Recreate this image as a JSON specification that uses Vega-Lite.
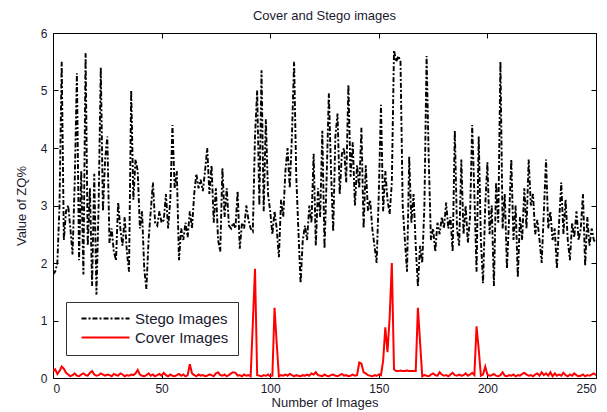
{
"$schema": "https://vega.github.io/schema/vega-lite/v6.json",
"width": 543, "height": 345,
"autosize": {"type": "none"},
"padding": {"left": 53, "top": 33, "right": 11, "bottom": 34},
"background": "white",
"title": {"text": "Cover and Stego images", "fontSize": 13, "fontWeight": "normal", "color": "#1a1a2e", "offset": 4, "font": "Liberation Sans"},
"data": {"values": [
{"n":0,"stego":1.8,"cover":0.12},{"n":1,"stego":1.85,"cover":0.15},{"n":2,"stego":2.0,"cover":0.07},{"n":3,"stego":3.0,"cover":0.12},{"n":4,"stego":5.5,"cover":0.2},{"n":5,"stego":2.4,"cover":0.16},{"n":6,"stego":2.9,"cover":0.09},{"n":7,"stego":3.0,"cover":0.06},{"n":8,"stego":2.6,"cover":0.03},{"n":9,"stego":2.15,"cover":0.05},
{"n":10,"stego":3.4,"cover":0.08},{"n":11,"stego":5.3,"cover":0.04},{"n":12,"stego":2.05,"cover":0.03},{"n":13,"stego":3.6,"cover":0.06},{"n":14,"stego":1.8,"cover":0.08},{"n":15,"stego":5.65,"cover":0.05},{"n":16,"stego":2.3,"cover":0.04},{"n":17,"stego":3.3,"cover":0.09},{"n":18,"stego":1.6,"cover":0.12},{"n":19,"stego":3.55,"cover":0.06},
{"n":20,"stego":1.45,"cover":0.04},{"n":21,"stego":3.0,"cover":0.05},{"n":22,"stego":5.4,"cover":0.08},{"n":23,"stego":2.9,"cover":0.06},{"n":24,"stego":3.8,"cover":0.04},{"n":25,"stego":4.2,"cover":0.06},{"n":26,"stego":2.35,"cover":0.05},{"n":27,"stego":2.6,"cover":0.03},{"n":28,"stego":2.2,"cover":0.07},{"n":29,"stego":2.05,"cover":0.05},
{"n":30,"stego":3.05,"cover":0.04},{"n":31,"stego":2.6,"cover":0.08},{"n":32,"stego":2.3,"cover":0.06},{"n":33,"stego":2.8,"cover":0.03},{"n":34,"stego":2.2,"cover":0.05},{"n":35,"stego":1.85,"cover":0.04},{"n":36,"stego":5.0,"cover":0.06},{"n":37,"stego":3.1,"cover":0.05},{"n":38,"stego":3.8,"cover":0.08},{"n":39,"stego":3.6,"cover":0.14},
{"n":40,"stego":2.6,"cover":0.06},{"n":41,"stego":2.9,"cover":0.04},{"n":42,"stego":1.9,"cover":0.03},{"n":43,"stego":1.55,"cover":0.05},{"n":44,"stego":2.4,"cover":0.08},{"n":45,"stego":2.9,"cover":0.04},{"n":46,"stego":3.4,"cover":0.06},{"n":47,"stego":2.7,"cover":0.03},{"n":48,"stego":2.65,"cover":0.05},{"n":49,"stego":2.9,"cover":0.07},
{"n":50,"stego":2.7,"cover":0.04},{"n":51,"stego":2.75,"cover":0.09},{"n":52,"stego":3.2,"cover":0.05},{"n":53,"stego":2.6,"cover":0.03},{"n":54,"stego":3.1,"cover":0.06},{"n":55,"stego":4.4,"cover":0.04},{"n":56,"stego":3.3,"cover":0.03},{"n":57,"stego":3.6,"cover":0.05},{"n":58,"stego":2.05,"cover":0.07},{"n":59,"stego":2.6,"cover":0.04},
{"n":60,"stego":2.4,"cover":0.06},{"n":61,"stego":2.7,"cover":0.03},{"n":62,"stego":2.45,"cover":0.05},{"n":63,"stego":2.9,"cover":0.24},{"n":64,"stego":2.6,"cover":0.08},{"n":65,"stego":3.2,"cover":0.05},{"n":66,"stego":3.55,"cover":0.03},{"n":67,"stego":3.3,"cover":0.06},{"n":68,"stego":3.45,"cover":0.04},{"n":69,"stego":3.25,"cover":0.05},
{"n":70,"stego":3.6,"cover":0.03},{"n":71,"stego":4.0,"cover":0.04},{"n":72,"stego":3.2,"cover":0.06},{"n":73,"stego":3.7,"cover":0.05},{"n":74,"stego":2.7,"cover":0.03},{"n":75,"stego":3.3,"cover":0.08},{"n":76,"stego":2.4,"cover":0.1},{"n":77,"stego":2.2,"cover":0.05},{"n":78,"stego":3.65,"cover":0.04},{"n":79,"stego":2.8,"cover":0.06},
{"n":80,"stego":3.3,"cover":0.03},{"n":81,"stego":2.65,"cover":0.05},{"n":82,"stego":2.6,"cover":0.08},{"n":83,"stego":2.7,"cover":0.1},{"n":84,"stego":2.6,"cover":0.09},{"n":85,"stego":3.25,"cover":0.04},{"n":86,"stego":2.25,"cover":0.05},{"n":87,"stego":2.7,"cover":0.03},{"n":88,"stego":2.6,"cover":0.06},{"n":89,"stego":3.0,"cover":0.04},
{"n":90,"stego":2.75,"cover":0.05},{"n":91,"stego":2.6,"cover":0.03},{"n":92,"stego":2.55,"cover":0.95},{"n":93,"stego":4.2,"cover":1.9},{"n":94,"stego":5.0,"cover":0.05},{"n":95,"stego":3.0,"cover":0.04},{"n":96,"stego":5.35,"cover":0.03},{"n":97,"stego":2.9,"cover":0.05},{"n":98,"stego":4.5,"cover":0.04},{"n":99,"stego":3.2,"cover":0.06},
{"n":100,"stego":2.9,"cover":0.03},{"n":101,"stego":2.5,"cover":0.04},{"n":102,"stego":2.9,"cover":1.22},{"n":103,"stego":2.6,"cover":0.6},{"n":104,"stego":2.1,"cover":0.03},{"n":105,"stego":3.1,"cover":0.05},{"n":106,"stego":2.8,"cover":0.04},{"n":107,"stego":3.6,"cover":0.06},{"n":108,"stego":4.0,"cover":0.04},{"n":109,"stego":3.3,"cover":0.07},
{"n":110,"stego":4.2,"cover":0.05},{"n":111,"stego":5.5,"cover":0.03},{"n":112,"stego":3.5,"cover":0.05},{"n":113,"stego":2.55,"cover":0.04},{"n":114,"stego":1.65,"cover":0.03},{"n":115,"stego":2.4,"cover":0.05},{"n":116,"stego":2.65,"cover":0.04},{"n":117,"stego":2.4,"cover":0.06},{"n":118,"stego":3.0,"cover":0.04},{"n":119,"stego":2.7,"cover":0.08},
{"n":120,"stego":3.9,"cover":0.06},{"n":121,"stego":2.3,"cover":0.1},{"n":122,"stego":3.3,"cover":0.05},{"n":123,"stego":2.8,"cover":0.04},{"n":124,"stego":4.3,"cover":0.03},{"n":125,"stego":2.25,"cover":0.06},{"n":126,"stego":3.5,"cover":0.04},{"n":127,"stego":4.95,"cover":0.03},{"n":128,"stego":3.6,"cover":0.05},{"n":129,"stego":2.55,"cover":0.06},
{"n":130,"stego":4.2,"cover":0.04},{"n":131,"stego":4.6,"cover":0.03},{"n":132,"stego":3.2,"cover":0.05},{"n":133,"stego":3.9,"cover":0.07},{"n":134,"stego":4.0,"cover":0.04},{"n":135,"stego":3.4,"cover":0.05},{"n":136,"stego":5.1,"cover":0.03},{"n":137,"stego":3.5,"cover":0.04},{"n":138,"stego":4.1,"cover":0.06},{"n":139,"stego":3.0,"cover":0.04},
{"n":140,"stego":3.7,"cover":0.05},{"n":141,"stego":3.3,"cover":0.27},{"n":142,"stego":4.35,"cover":0.25},{"n":143,"stego":2.6,"cover":0.1},{"n":144,"stego":3.7,"cover":0.08},{"n":145,"stego":2.9,"cover":0.05},{"n":146,"stego":3.1,"cover":0.04},{"n":147,"stego":2.6,"cover":0.03},{"n":148,"stego":2.3,"cover":0.05},{"n":149,"stego":2.0,"cover":0.04},
{"n":150,"stego":3.2,"cover":0.06},{"n":151,"stego":4.75,"cover":0.05},{"n":152,"stego":2.9,"cover":0.3},{"n":153,"stego":3.6,"cover":0.88},{"n":154,"stego":3.1,"cover":0.45},{"n":155,"stego":2.85,"cover":1.05},{"n":156,"stego":3.4,"cover":2.0},{"n":157,"stego":5.7,"cover":0.15},{"n":158,"stego":5.5,"cover":0.12},{"n":159,"stego":5.6,"cover":0.12},
{"n":160,"stego":5.5,"cover":0.13},{"n":161,"stego":3.0,"cover":0.12},{"n":162,"stego":2.4,"cover":0.12},{"n":163,"stego":1.85,"cover":0.13},{"n":164,"stego":3.85,"cover":0.12},{"n":165,"stego":2.7,"cover":0.12},{"n":166,"stego":3.2,"cover":0.12},{"n":167,"stego":2.3,"cover":0.12},{"n":168,"stego":1.6,"cover":1.22},{"n":169,"stego":2.3,"cover":0.62},
{"n":170,"stego":2.0,"cover":0.03},{"n":171,"stego":3.0,"cover":0.05},{"n":172,"stego":5.6,"cover":0.04},{"n":173,"stego":3.8,"cover":0.03},{"n":174,"stego":2.4,"cover":0.06},{"n":175,"stego":2.6,"cover":0.08},{"n":176,"stego":2.2,"cover":0.05},{"n":177,"stego":2.7,"cover":0.04},{"n":178,"stego":2.5,"cover":0.1},{"n":179,"stego":2.8,"cover":0.06},
{"n":180,"stego":2.6,"cover":0.04},{"n":181,"stego":3.05,"cover":0.05},{"n":182,"stego":2.6,"cover":0.03},{"n":183,"stego":2.8,"cover":0.06},{"n":184,"stego":2.2,"cover":0.09},{"n":185,"stego":4.3,"cover":0.05},{"n":186,"stego":2.6,"cover":0.04},{"n":187,"stego":2.3,"cover":0.06},{"n":188,"stego":3.8,"cover":0.04},{"n":189,"stego":2.5,"cover":0.05},
{"n":190,"stego":3.0,"cover":0.08},{"n":191,"stego":2.35,"cover":0.04},{"n":192,"stego":2.8,"cover":0.06},{"n":193,"stego":4.4,"cover":0.09},{"n":194,"stego":3.2,"cover":0.05},{"n":195,"stego":1.85,"cover":0.9},{"n":196,"stego":4.2,"cover":0.5},{"n":197,"stego":2.4,"cover":0.04},{"n":198,"stego":1.65,"cover":0.06},{"n":199,"stego":3.0,"cover":0.2},
{"n":200,"stego":3.75,"cover":0.06},{"n":201,"stego":2.5,"cover":0.04},{"n":202,"stego":3.0,"cover":0.05},{"n":203,"stego":1.6,"cover":0.07},{"n":204,"stego":3.4,"cover":0.04},{"n":205,"stego":2.7,"cover":0.03},{"n":206,"stego":5.5,"cover":0.05},{"n":207,"stego":2.6,"cover":0.1},{"n":208,"stego":3.2,"cover":0.04},{"n":209,"stego":1.9,"cover":0.03},
{"n":210,"stego":2.8,"cover":0.05},{"n":211,"stego":3.8,"cover":0.04},{"n":212,"stego":2.4,"cover":0.06},{"n":213,"stego":3.0,"cover":0.03},{"n":214,"stego":1.75,"cover":0.05},{"n":215,"stego":2.8,"cover":0.04},{"n":216,"stego":2.4,"cover":0.07},{"n":217,"stego":3.3,"cover":0.09},{"n":218,"stego":2.6,"cover":0.06},{"n":219,"stego":3.8,"cover":0.04},
{"n":220,"stego":3.0,"cover":0.05},{"n":221,"stego":3.2,"cover":0.03},{"n":222,"stego":2.5,"cover":0.06},{"n":223,"stego":2.75,"cover":0.08},{"n":224,"stego":2.4,"cover":0.04},{"n":225,"stego":2.0,"cover":0.1},{"n":226,"stego":2.9,"cover":0.05},{"n":227,"stego":3.8,"cover":0.08},{"n":228,"stego":2.6,"cover":0.04},{"n":229,"stego":2.9,"cover":0.1},
{"n":230,"stego":2.4,"cover":0.03},{"n":231,"stego":2.6,"cover":0.08},{"n":232,"stego":1.9,"cover":0.04},{"n":233,"stego":2.7,"cover":0.06},{"n":234,"stego":3.4,"cover":0.04},{"n":235,"stego":2.5,"cover":0.09},{"n":236,"stego":3.1,"cover":0.05},{"n":237,"stego":2.4,"cover":0.03},{"n":238,"stego":2.05,"cover":0.06},{"n":239,"stego":2.7,"cover":0.04},
{"n":240,"stego":2.45,"cover":0.08},{"n":241,"stego":2.9,"cover":0.05},{"n":242,"stego":2.4,"cover":0.03},{"n":243,"stego":2.6,"cover":0.04},{"n":244,"stego":3.2,"cover":0.06},{"n":245,"stego":1.95,"cover":0.03},{"n":246,"stego":2.8,"cover":0.05},{"n":247,"stego":2.3,"cover":0.04},{"n":248,"stego":2.6,"cover":0.06},{"n":249,"stego":2.4,"cover":0.08},
{"n":250,"stego":2.35,"cover":0.05}
]},
"transform": [{"fold": ["stego", "cover"], "as": ["series", "value"]}],
"layer": [
{"mark": {"type": "line", "clip": true},
 "encoding": {
  "x": {"field": "n", "type": "quantitative", "scale": {"domain": [0, 250], "nice": false}, "axis": {"orient": "bottom", "values": [0, 50, 100, 150, 200, 250], "title": "Number of Images", "labelPadding": 10, "titlePadding": 2}},
  "y": {"field": "value", "type": "quantitative", "scale": {"domain": [0, 6], "nice": false}, "axis": {"orient": "left", "values": [0, 1, 2, 3, 4, 5, 6], "title": "Value of ZQ%", "labelPadding": 11, "titlePadding": 12}},
  "color": {"field": "series", "type": "nominal", "scale": {"domain": ["stego", "cover"], "range": ["#000000", "#ff0000"]},
   "legend": {"title": null, "orient": "none", "legendX": 13, "legendY": 269, "strokeColor": "#333333", "fillColor": "white", "padding": 9, "symbolType": "M-4,0H4", "symbolSize": 144, "symbolOffset": 23, "symbolStrokeWidth": 1.8, "labelFontSize": 15, "labelFont": "Liberation Sans", "labelColor": "#1a1a2e", "rowPadding": 3, "labelOffset": 22, "labelExpr": "datum.value == 'stego' ? 'Stego Images' : 'Cover Images'"}},
  "strokeDash": {"field": "series", "type": "nominal", "scale": {"domain": ["stego", "cover"], "range": [[5, 2, 2, 2], [1, 0]]},
   "legend": {"title": null, "orient": "none", "legendX": 13, "legendY": 269, "strokeColor": "#333333", "fillColor": "white", "padding": 9, "symbolType": "M-4,0H4", "symbolSize": 144, "symbolOffset": 23, "symbolStrokeWidth": 1.8, "labelFontSize": 15, "labelFont": "Liberation Sans", "labelColor": "#1a1a2e", "rowPadding": 3, "labelOffset": 22, "labelExpr": "datum.value == 'stego' ? 'Stego Images' : 'Cover Images'"}},
  "strokeWidth": {"field": "series", "type": "nominal", "scale": {"domain": ["stego", "cover"], "range": [1.9, 2]}, "legend": null}
 }},
{"mark": {"type": "line", "strokeOpacity": 0},
 "encoding": {
  "x": {"field": "n", "type": "quantitative", "axis": {"orient": "top", "values": [0, 50, 100, 150, 200, 250], "labels": false, "title": null}},
  "y": {"field": "value", "type": "quantitative", "axis": {"orient": "right", "values": [0, 1, 2, 3, 4, 5, 6], "labels": false, "title": null}}
 }}
],
"resolve": {"axis": {"x": "independent", "y": "independent"}},
"config": {
 "font": "Liberation Sans",
 "view": {"stroke": "#000000", "strokeWidth": 1},
 "axis": {"grid": false, "domain": false, "tickSize": -5, "tickColor": "#000000", "tickWidth": 1, "labelFontSize": 12, "labelColor": "#1a1a2e", "labelFont": "Liberation Sans", "titleFont": "Liberation Sans", "titleFontSize": 13, "titleFontWeight": "normal", "titleColor": "#1a1a2e"}
}
}
